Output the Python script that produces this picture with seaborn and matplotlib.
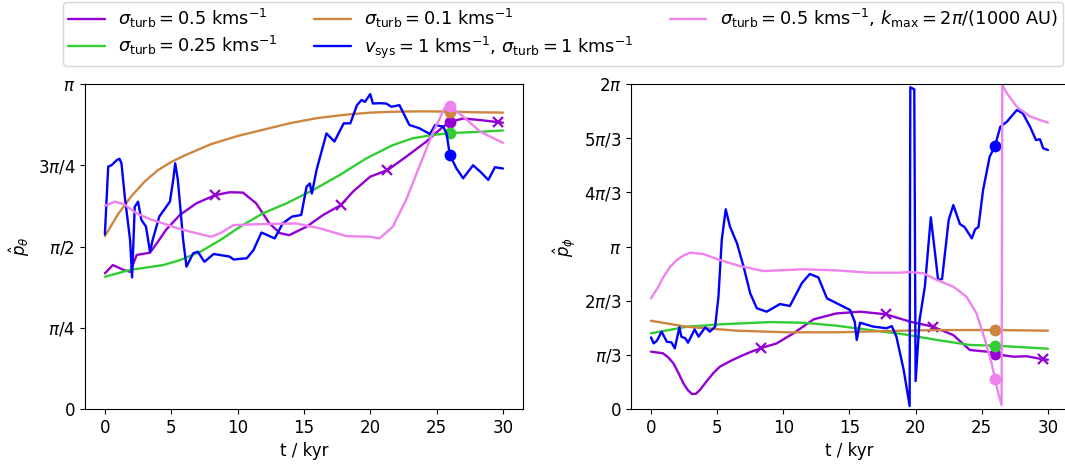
import numpy as np
import pandas as pd
import matplotlib
matplotlib.use("Agg")
import matplotlib.pyplot as plt
import seaborn as sns

# ---------------- data (values in units of pi) ----------------
labels = [
    r'$\sigma_\mathrm{turb} = 0.5$ kms$^{-1}$',
    r'$\sigma_\mathrm{turb} = 0.25$ kms$^{-1}$',
    r'$\sigma_\mathrm{turb} = 0.1$ kms$^{-1}$',
    r'$v_\mathrm{sys} = 1$ kms$^{-1}$, $\sigma_\mathrm{turb} = 1$ kms$^{-1}$',
    r'$\sigma_\mathrm{turb} = 0.5$ kms$^{-1}$, $k_\mathrm{max} = 2\pi/(1000$ AU)',
]
colors = ['darkviolet', 'limegreen', 'peru', 'blue', 'violet']

t_dot = 26.0
t_cross = [8.3, 17.8, 21.3, 29.6]

# --- left panel: p_theta ---
th_s05_t = [0, 0.6, 1.4, 1.9, 2.4, 3.4, 4.0, 4.6, 5.65, 6.9, 8.3, 9.4, 10.4, 11.4, 12.4, 13.2, 13.9,
            15.2, 16.45, 17.8, 18.7, 20.0, 21.3, 22.7, 24.2, 25.5, 26.0, 27.0, 28.3, 30]
th_s05_v = [0.4175, 0.443, 0.428, 0.422, 0.474, 0.481, 0.515, 0.551, 0.597, 0.633, 0.658, 0.667, 0.666,
            0.633, 0.571, 0.541, 0.535, 0.561, 0.597, 0.628, 0.669, 0.715, 0.735, 0.776, 0.822,
            0.869, 0.883, 0.894, 0.889, 0.881]

th_s025_t = [0, 1.9, 4.4, 5.65, 7.2, 8.7, 10.2, 11.9, 13.7, 15.7, 17.7, 19.7, 21.7, 23.2, 24.7, 26.0, 28.3, 30]
th_s025_v = [0.407, 0.428, 0.443, 0.458, 0.484, 0.52, 0.561, 0.602, 0.633, 0.674, 0.72, 0.771,
             0.812, 0.833, 0.843, 0.849, 0.853, 0.857]

th_s01_t = [0, 1, 2, 3, 4, 5, 6, 8, 10, 12, 14, 16, 18, 20, 22, 24, 26, 28, 30]
th_s01_v = [0.532, 0.6, 0.655, 0.7, 0.735, 0.76, 0.78, 0.815, 0.84, 0.86, 0.88, 0.895, 0.905,
            0.912, 0.915, 0.916, 0.915, 0.913, 0.912]

th_vsys_t = [0, 0.25, 0.5, 0.9, 1.1, 1.25, 1.5, 1.9, 2.05, 2.25, 2.5, 2.75, 3.1, 3.4, 3.6, 4.1, 4.9,
             5.15, 5.3, 5.5, 5.9, 6.15, 6.65, 7.0, 7.5, 8.2, 9.4, 9.7, 10.7, 11.2, 11.8, 12.8, 13.4,
             14.1, 14.8, 15.2, 15.45, 15.6, 15.95, 16.7, 17.3, 18.0, 18.5, 19.0, 19.35, 19.6, 20.0,
             20.2, 20.7, 21.2, 21.6, 22.2, 22.95, 23.7, 24.5, 24.9, 25.5, 25.75, 26.0, 26.5, 27.0,
             27.75, 28.3, 28.9, 29.4, 30]
th_vsys_v = [0.538, 0.746, 0.75, 0.766, 0.77, 0.756, 0.653, 0.52, 0.405, 0.622, 0.638, 0.582, 0.561,
             0.484, 0.52, 0.592, 0.638, 0.705, 0.756, 0.705, 0.52, 0.438, 0.479, 0.484, 0.453, 0.477,
             0.469, 0.46, 0.464, 0.489, 0.543, 0.525, 0.571, 0.592, 0.597, 0.684, 0.694, 0.663,
             0.735, 0.848, 0.823, 0.879, 0.879, 0.935, 0.951, 0.945, 0.969, 0.94, 0.941, 0.94,
             0.93, 0.935, 0.874, 0.864, 0.846, 0.874, 0.869, 0.848, 0.782, 0.74, 0.71, 0.75, 0.73,
             0.705, 0.744, 0.74]

th_kmax_t = [0, 0.75, 1.4, 2.4, 3.4, 4.4, 5.4, 6.4, 8.0, 8.7, 9.7, 11.9, 14.4, 16.2, 18.2, 20.0, 20.7,
             21.7, 22.7, 23.7, 24.7, 25.6, 26.0, 27.0, 28.3, 30]
th_kmax_v = [0.625, 0.638, 0.631, 0.602, 0.584, 0.571, 0.557, 0.546, 0.53, 0.541, 0.566, 0.569,
             0.571, 0.556, 0.532, 0.530, 0.525, 0.561, 0.643, 0.746, 0.848, 0.925, 0.932, 0.9,
             0.853, 0.819]

# --- right panel: p_phi ---
ph_s05_t = [0, 0.9, 1.3, 1.7, 2.1, 2.45, 2.8, 3.1, 3.4, 3.7, 4.2, 4.7, 5.2, 6.0, 6.7, 7.5, 8.25,
            9.5, 10.75, 12.3, 14.0, 15.8, 17.75, 19.6, 21.3, 22.85, 24.1, 25.4, 26.0, 27.4, 28.4,
            29.6, 30]
ph_s05_v = [0.353, 0.343, 0.318, 0.281, 0.218, 0.158, 0.115, 0.092, 0.094, 0.117, 0.17, 0.22,
            0.26, 0.295, 0.322, 0.35, 0.373, 0.404, 0.465, 0.552, 0.588, 0.599, 0.583, 0.537,
            0.507, 0.455, 0.363, 0.353, 0.338, 0.322, 0.325, 0.306, 0.303]

ph_s025_t = [0, 2.7, 5.2, 9.0, 11.5, 14.0, 16.55, 19.1, 21.6, 24.1, 26.0, 30]
ph_s025_v = [0.466, 0.506, 0.521, 0.535, 0.531, 0.513, 0.486, 0.46, 0.425, 0.394, 0.39, 0.371]

ph_s01_t = [0, 2.7, 6.5, 10.3, 14.1, 17.8, 21.6, 26.0, 30]
ph_s01_v = [0.543, 0.506, 0.482, 0.472, 0.472, 0.48, 0.486, 0.486, 0.482]

ph_vsys_t = [0, 0.2, 0.45, 0.8, 1.2, 1.55, 1.8, 2.15, 2.3, 2.6, 2.8, 3.3, 3.6, 4.1, 4.45, 4.85, 5.1,
             5.35, 5.65, 5.97, 6.5, 7.0, 7.5, 8.0, 8.75, 9.75, 10.5, 11.4, 12.0, 12.65, 13.3, 14.3,
             15.05, 15.4, 15.55, 15.8, 16.8, 17.8, 18.2, 18.55, 19.1, 19.55, 19.6, 19.9, 20.0, 20.3,
             20.7, 21.15, 21.5, 21.7, 22.0, 22.5, 22.85, 23.35, 23.7, 24.25, 24.5, 24.75, 25.1,
             25.6, 26.0, 26.4, 26.9, 27.65, 28.1, 28.65, 29.1, 29.4, 29.65, 30]
ph_vsys_v = [0.441, 0.404, 0.42, 0.476, 0.414, 0.41, 0.373, 0.503, 0.445, 0.435, 0.408, 0.49,
             0.445, 0.503, 0.476, 0.507, 0.691, 1.04, 1.229, 1.122, 1.02, 0.876, 0.712, 0.62,
             0.599, 0.646, 0.634, 0.774, 0.831, 0.81, 0.681, 0.64, 0.609, 0.537, 0.425, 0.531,
             0.507, 0.497, 0.51, 0.445, 0.24, 0.018, 1.98, 1.967, 0.172, 0.548, 0.753, 1.18, 0.937,
             0.794, 0.8, 1.163, 1.255, 1.138, 1.12, 1.05, 1.106, 1.12, 1.348, 1.553, 1.618, 1.737,
             1.768, 1.84, 1.82, 1.737, 1.655, 1.66, 1.604, 1.594]

ph_kmax_t = [0, 0.5, 0.95, 1.45, 1.95, 2.45, 2.95, 3.95, 5.2, 6.7, 8.5, 11.5, 14.0, 16.55, 18.8, 19.6,
             20.6, 21.6, 22.85, 23.85, 24.6, 25.25, 25.75, 26.0, 26.25, 26.5, 26.55, 26.9, 27.65,
             28.65, 30]
ph_kmax_v = [0.681, 0.745, 0.814, 0.875, 0.917, 0.945, 0.962, 0.954, 0.917, 0.88, 0.849, 0.86,
             0.853, 0.839, 0.839, 0.843, 0.835, 0.794, 0.753, 0.691, 0.589, 0.425, 0.281, 0.185,
             0.097, 0.025, 1.995, 1.943, 1.86, 1.8, 1.762]

left_series = [(th_s05_t, th_s05_v), (th_s025_t, th_s025_v), (th_s01_t, th_s01_v),
               (th_vsys_t, th_vsys_v), (th_kmax_t, th_kmax_v)]
right_series = [(ph_s05_t, ph_s05_v), (ph_s025_t, ph_s025_v), (ph_s01_t, ph_s01_v),
                (ph_vsys_t, ph_vsys_v), (ph_kmax_t, ph_kmax_v)]

left_ticklabels = ['0', r'$\pi/4$', r'$\pi/2$', r'$3\pi/4$', r'$\pi$']
right_ticklabels = ['0', r'$\pi/3$', r'$2\pi/3$', r'$\pi$', r'$4\pi/3$', r'$5\pi/3$', r'$2\pi$']

# ---------------- plotting ----------------
sns.set_style("ticks")
plt.rcParams.update({
    'font.family': ['DejaVu Sans'],
    'font.size': 12,
    'axes.edgecolor': 'black',
    'xtick.color': 'black', 'ytick.color': 'black',
    'axes.labelcolor': 'black', 'text.color': 'black',
    'xtick.direction': 'out', 'ytick.direction': 'out',
    'xtick.major.size': 3.5, 'ytick.major.size': 3.5,
    'xtick.labelsize': 12, 'ytick.labelsize': 12, 'axes.labelsize': 12,
})

fig = plt.figure(figsize=(10.65, 4.66), dpi=100)
axL = fig.add_axes([0.0798, 0.1223, 0.4111, 0.6974])
axR = fig.add_axes([0.5926, 0.1223, 0.4100, 0.6974])

LW = 1.7

def draw(ax, series):
    handles = []
    for i, ((t, v), c, lab) in enumerate(zip(series, colors, labels)):
        df = pd.DataFrame({'t': t, 'v': np.array(v) * np.pi})
        sns.lineplot(data=df, x='t', y='v', ax=ax, color=c, lw=LW, sort=False,
                     estimator=None, label=lab, legend=False)
        handles.append(ax.lines[-1])
        yd = np.interp(t_dot, df['t'], df['v'])
        ax.plot([t_dot], [yd], 'o', color=c, ms=7.5)
        if i == 0:
            yc = np.interp(t_cross, df['t'], df['v'])
            ax.plot(t_cross, yc, 'x', color=c, ms=7.5, mew=1.6, ls='none')
    return handles

hL = draw(axL, left_series)
draw(axR, right_series)

for ax in (axL, axR):
    ax.set_xlim(-1.5, 31.5)
    ax.set_xticks([0, 5, 10, 15, 20, 25, 30])
    ax.set_xlabel('t / kyr')
    for s in ax.spines.values():
        s.set_visible(True)
        s.set_color('black')
        s.set_linewidth(0.8)

axL.set_ylim(0, np.pi)
axL.set_yticks(np.arange(5) * np.pi / 4)
axL.set_yticklabels(left_ticklabels)
axL.set_ylabel(r'$\hat{p}_\theta$')

axR.set_ylim(0, 2 * np.pi)
axR.set_yticks(np.arange(7) * np.pi / 3)
axR.set_yticklabels(right_ticklabels)
axR.set_ylabel(r'$\hat{p}_\phi$')

fig.legend(hL, labels, loc='upper left', bbox_to_anchor=(63 / 1065, 0, 1000 / 1065, 1 - 2 / 466),
           mode='expand', ncol=3, borderaxespad=0, fontsize=12.8, frameon=True,
           handlelength=2.05, handletextpad=0.75, labelspacing=0.22, borderpad=0.3)

fig.savefig('out.png', dpi=100)
